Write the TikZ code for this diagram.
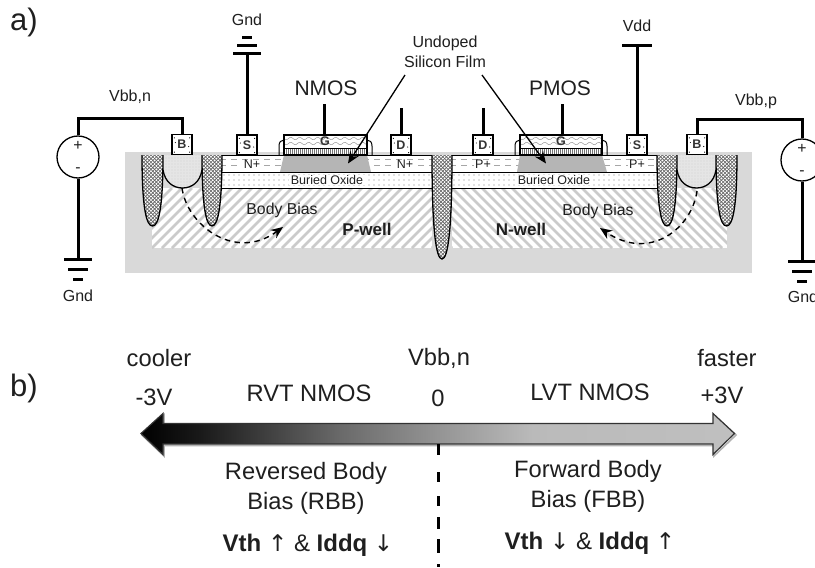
\documentclass[tikz,border=0pt]{standalone}
\usepackage{fontspec}
\setmainfont{Liberation Sans}
\newfontfamily\arrowfont{DejaVu Sans}
\usetikzlibrary{arrows.meta}
\pgfdeclarehorizontalshading{barshade}{100bp}{color(0bp)=(black); color(25bp)=(black); color(30bp)=(black!90); color(42bp)=(black!58); color(50bp)=(black!42); color(58bp)=(black!27); color(75bp)=(black!25); color(100bp)=(black!25)}
\definecolor{substrate}{HTML}{D9D9D9}
\definecolor{chan}{HTML}{B5B5B5}
\definecolor{hatchc}{HTML}{CBCBCB}
\newcommand{\fsz}[1]{\fontsize{#1}{#1}\selectfont}
\newcommand{\upar}{{\arrowfont\mdseries\fontsize{23}{23}\selectfont ↑}}
\newcommand{\dnar}{{\arrowfont\mdseries\fontsize{23}{23}\selectfont ↓}}
\tikzset{
  wire/.style={line width=3pt,draw=black},
  layer/.style={draw=black,line width=1pt},
  term/.style={draw=black,line width=1.3pt,fill=white,minimum size=20pt,inner sep=0pt,font=\bfseries\fsz{12.5},text=black!80},
  gatelbl/.style={inner sep=0pt,font=\bfseries\fsz{12.5},text=black!80},
  vsrc/.style={circle,draw=black,line width=1.3pt,fill=white,minimum size=42pt,inner sep=0pt},
  lbl/.style={inner sep=0pt,text=black!88,align=center},
  tox/.style={lbl,font=\fsz{12.5},fill=white,inner xsep=1.5pt},
  tdop/.style={lbl,font=\fsz{12.5},fill=white,inner xsep=1.5pt},
  tbody/.style={lbl,font=\fsz{15.8}},
  twell/.style={lbl,font=\bfseries\fsz{17}},
  tsmall/.style={lbl,font=\fontsize{16}{20}\selectfont},
  tmos/.style={lbl,font=\fsz{21}},
  tscale/.style={lbl,font=\fontsize{23.7}{30}\selectfont},
  tcond/.style={lbl,font=\bfseries\fsz{24}},
  tbig/.style={lbl,font=\fsz{31}},
  film arrow/.style={draw=black,line width=1.3pt,-{Stealth[length=12pt,width=10pt]}},
  bias/.style={draw=black,line width=1.4pt,dash pattern=on 5.5pt off 4.5pt,-{Stealth[length=12pt,width=10pt]}},
}
% STI trench
\newcommand{\stitrench}[4]{% x1 x2 ytop ybot
  \pgfmathsetmacro{\xm}{(#1+#2)/2}
  \pgfmathsetmacro{\yc}{#3+0.72*(#4-#3)}
  \begin{scope}
    \clip (#1,#3) .. controls (#1,\yc) and (#1+4,#4) .. (\xm,#4) .. controls (#2-4,#4) and (#2,\yc) .. (#2,#3) -- cycle;
    \fill[black!60] (#1,#3) rectangle (#2,#4);
    \foreach \yy in {0,3.6,...,108}{
      \foreach \xx in {0,3.6,...,24}{
        \fill[white] (#1+\xx,#3+\yy) circle (1.1pt);
        \fill[white] (#1+\xx+1.8,#3+\yy+1.8) circle (1.1pt);
      }
    }
  \end{scope}
  \draw[line width=1.3pt] (#1,#3) .. controls (#1,\yc) and (#1+4,#4) .. (\xm,#4) .. controls (#2-4,#4) and (#2,\yc) .. (#2,#3);
}
% N+/P+ layer dashes
\newcommand{\dashlayer}[4]{%
  \begin{scope}
    \clip (#1,#2) rectangle (#3,#4);
    \foreach \yy in {3,9}{
      \draw[black!35,line width=.5pt,dash pattern=on 6pt off 5pt] (#1-2,#2+1+\yy) -- (#3,#2+1+\yy);
    }
  \end{scope}
}
% Buried-oxide dots
\newcommand{\oxidedots}[4]{%
  \begin{scope}
    \clip (#1,#2) rectangle (#3,#4);
    \foreach \yy in {3,8,13}{
      \foreach \xx in {0,5,...,210}{
        \fill[black!50] (#1+\xx+2,#2+\yy) circle (.6pt);
      }
    }
  \end{scope}
}
% Gate stack
\newcommand{\gatestack}[3]{% x1 x2 xmid
  \draw[line width=1pt] (#1-5,155) -- (#1-5,146) .. controls (#1-5,142) and (#1-3,140) .. (#1,140);
  \draw[line width=1pt] (#2+5,155) -- (#2+5,146) .. controls (#2+5,142) and (#2+3,140) .. (#2,140);
  \fill[white] (#1,135) rectangle (#2,155);
  \foreach \yy in {138.5,143.5}{
    \draw[black!40,line width=.5pt,domain=0:#2-#1,samples=70,smooth] plot ({#1+\x},{\yy+1.2*sin(\x*40)});
  }
  \foreach \xx in {0,2,...,84}{
    \pgfmathsetmacro{\xg}{#1+\xx}
    \ifdim\xg pt<#2pt
      \draw[black!55,line width=.6pt] (\xg,149) -- (\xg,155);
    \fi
  }
  \draw[line width=1.3pt] (#1,135) rectangle (#2,155);
  \draw[line width=1pt] (#1,148) -- (#2,148);
}
\newcommand{\diffusion}[2]{% x1 x2
  \begin{scope}
    \clip (#1,155) -- (#1,170) .. controls (#1+2,182) and (#1+10,188) .. (#1/2+#2/2,188) .. controls (#2-10,188) and (#2-2,182) .. (#2,170) -- (#2,155) -- cycle;
    \fill[black!10] (#1,155) rectangle (#2,190);
    \foreach \yy in {0,3,...,33}{
      \foreach \xx in {0,3,...,39}{
        \fill[black!30] (#1+\xx,155+\yy) circle (.45pt);
      }
    }
  \end{scope}
  \draw[line width=1.3pt] (#1,170) .. controls (#1+2,182) and (#1+10,188) .. (#1/2+#2/2,188) .. controls (#2-10,188) and (#2-2,182) .. (#2,170);
}
\newcommand{\termdots}[1]{%
  \fill (#1.north west) ++(3,4) circle (.6pt);
  \fill (#1.north east) ++(-3,4) circle (.6pt);
  \fill (#1.south west) ++(3,-3) circle (.6pt);
  \fill (#1.south east) ++(-3,-3) circle (.6pt);
  \fill (#1.west) ++(4,-2) circle (.6pt);
  \fill (#1.east) ++(-4,2) circle (.6pt);
}
\begin{document}
\begin{tikzpicture}[x=1pt,y=-1pt]
\useasboundingbox (0,0) rectangle (815,568);
\fill[white] (0,0) rectangle (815,568);
% substrate
\fill[substrate] (125,152) rectangle (752,273);
% wells
\begin{scope}
  \clip (152,188) rectangle (432,248);
  \fill[white] (152,188) rectangle (432,248);
  \foreach \k in {0,10,...,360}{
    \draw[hatchc,line width=2.6pt] (152+\k-60,248) -- (152+\k,188);
  }
\end{scope}
\begin{scope}
  \clip (452,188) rectangle (727,248);
  \fill[white] (452,188) rectangle (727,248);
  \foreach \k in {0,10,...,360}{
    \draw[hatchc,line width=2.6pt] (452+\k-60,188) -- (452+\k,248);
  }
\end{scope}
% top layers
\fill[white] (222,155) rectangle (432,188);
\fill[white] (452,155) rectangle (657,188);
\dashlayer{222}{155}{432}{172}
\dashlayer{452}{155}{657}{172}
\oxidedots{222}{172}{432}{188}
\oxidedots{452}{172}{657}{188}
\fill[chan] (280,172) -- (284,155) -- (367,155) -- (371,172) -- cycle;
\fill[chan] (517,172) -- (520,155) -- (602,155) -- (607,172) -- cycle;
\draw[layer] (222,172) -- (432,172) (222,188) -- (432,188);
\draw[layer] (452,172) -- (657,172) (452,188) -- (657,188);
\draw[layer] (142,155) -- (432,155);
\draw[layer] (452,155) -- (737,155);
\diffusion{163}{202}
\diffusion{677}{716}
\stitrench{142}{163}{155}{226}
\stitrench{202}{222}{155}{226}
\stitrench{432}{452}{155}{259}
\stitrench{657}{677}{155}{226}
\stitrench{716}{737}{155}{226}
\gatestack{284}{367}{325}
\gatestack{520}{602}{561}
% terminals
\node[term] (tBn) at (182,144.5) {B};
\node[term] (tSn) at (247,145) {S};
\node[term] (tDn) at (401,145) {D};
\node[term] (tDp) at (483,145) {D};
\node[term] (tSp) at (637,145) {S};
\node[term] (tBp) at (697,144.5) {B};
\termdots{tBn}\termdots{tSn}\termdots{tDn}\termdots{tDp}\termdots{tSp}\termdots{tBp}
\node[gatelbl] (tGn) at (325,141) {G};
\node[gatelbl] (tGp) at (561,141) {G};
% layer labels
\node[tdop] (nl) at (252,164) {N+};
\node[tdop] (nr) at (405,164) {N+};
\node[tdop] (pl) at (483,164) {P+};
\node[tdop] (pr) at (637,164) {P+};
\node[tox] (ox1) at (327,180) {Buried Oxide};
\node[tox] (ox2) at (554,180) {Buried Oxide};
\node[tbody] (bb1) at (282,210) {Body Bias};
\node[tbody] (bb2) at (598,211) {Body Bias};
\node[twell] (pw) at (367,229) {P-well};
\node[twell] (nw) at (521,229) {N-well};
% body bias arrows
\coordinate (bbaS) at (182,188);
\coordinate (bbaE) at (283,227);
\coordinate (bbbS) at (697,191);
\coordinate (bbbE) at (600,228);
\draw[bias] (bbaS) .. controls (187,225) and (235,262) .. (bbaE);
\draw[bias] (bbbS) .. controls (692,228) and (650,262) .. (bbbE);
% sources
\node[vsrc] (vn) at (78,157) {};
\node[vsrc] (vp) at (802,160) {};
\node[tbody] (vnp) at (78,146) {+};
\node[tbody] (vnm) at (78,170) {-};
\node[tbody] (vpp) at (802,149) {+};
\node[tbody] (vpm) at (802,173) {-};
\node[tsmall] (lvn) at (130,97) {Vbb,n};
\node[tsmall] (lvp) at (756,101) {Vbb,p};
% wires
\coordinate (cnA) at (78,118);
\coordinate (cnB) at (182,118);
\coordinate (cpA) at (802,119.5);
\coordinate (cpB) at (697,119.5);
\draw[wire,line join=miter] (vn.north) -- (cnA) -- (cnB) -- (tBn.north);
\draw[wire,line join=miter] (vp.north) -- (cpA) -- (cpB) -- (tBp.north);
\coordinate (gL) at (78,259);
\coordinate (gR) at (802,261);
\coordinate (gS) at (247,53);
\coordinate (vddc) at (637,45);
\draw[wire] (vn.south) -- (gL);
\draw[wire] (vp.south) -- (gR);
\draw[wire] (tSn.north) -- (gS);
\draw[wire] (tSp.north) -- (vddc);
\draw[wire] ([xshift=-14pt]gL) -- ([xshift=14pt]gL);
\draw[wire] ([xshift=-10pt,yshift=-10pt]gL) -- ([xshift=10pt,yshift=-10pt]gL);
\draw[wire] ([xshift=-5pt,yshift=-20pt]gL) -- ([xshift=5pt,yshift=-20pt]gL);
\draw[wire] ([xshift=-14pt]gR) -- ([xshift=14pt]gR);
\draw[wire] ([xshift=-10pt,yshift=-10pt]gR) -- ([xshift=10pt,yshift=-10pt]gR);
\draw[wire] ([xshift=-5pt,yshift=-20pt]gR) -- ([xshift=5pt,yshift=-20pt]gR);
\draw[wire] ([xshift=-14pt]gS) -- ([xshift=14pt]gS);
\draw[wire] ([xshift=-10pt,yshift=8pt]gS) -- ([xshift=10pt,yshift=8pt]gS);
\draw[wire] ([xshift=-5pt,yshift=16pt]gS) -- ([xshift=5pt,yshift=16pt]gS);
\draw[wire] ([xshift=-15pt]vddc) -- ([xshift=15pt]vddc);
\node[tsmall] (gndL) at (78,296) {Gnd};
\node[tsmall] (gndR) at (803,297) {Gnd};
\node[tsmall] (gndS) at (247,20) {Gnd};
\node[tsmall] (vddl) at (637,26) {Vdd};
% stubs
\coordinate (sGn) at (324,104);
\coordinate (sDn) at (401,108);
\coordinate (sDp) at (483,108);
\coordinate (sGp) at (562,104);
\coordinate (bGn) at (324,135);
\coordinate (bGp) at (562,135);
\draw[wire] (bGn) -- (sGn);
\draw[wire] (tDn.north) -- (sDn);
\draw[wire] (tDp.north) -- (sDp);
\draw[wire] (bGp) -- (sGp);
% heading labels
\node[tmos] (nmos) at (326,88) {NMOS};
\node[tmos] (pmos) at (560,88) {PMOS};
\node[tsmall] (film) at (445,52) {Undoped\\Silicon Film};
\coordinate (chA) at (348,163.5);
\coordinate (chB) at (546,163.5);
\coordinate (fA) at (405,75);
\coordinate (fB) at (482,75);
\draw[film arrow] (fA) -- (chA);
\draw[film arrow] (fB) -- (chB);
\node[tbig] (la) at (24,22) {a)};
\node[tbig] (lb) at (24,388) {b)};
% lower scale
\node[tscale] (cooler) at (159,358) {cooler};
\node[tscale] (m3) at (154,397) {-3V};
\node[tscale] (rvt) at (309,393) {RVT NMOS};
\node[tscale] (vbbn) at (439,358) {Vbb,n};
\node[tscale] (zero) at (438,398) {0};
\node[tscale] (lvt) at (590,392) {LVT NMOS};
\node[tscale] (faster) at (727,358) {faster};
\node[tscale] (p3) at (722,395) {+3V};
\draw[black!30,line width=1.6pt,line join=miter] (142,435) -- (164,415) -- (164,425) -- (714,425) -- (714,415) -- (736,435) -- (714,456) -- (714,445.5) -- (164,445.5) -- (164,456) -- cycle;
\path[shading=barshade,draw=black!80,line width=1.2pt] (141,433.5) -- (163,413.5) -- (163,423.5) -- (713,423.5) -- (713,413.5) -- (734.5,433.5) -- (713,454.5) -- (713,444) -- (163,444) -- (163,454.5) -- cycle;
\coordinate (dashT) at (438.5,444);
\coordinate (dashB) at (438.5,568);
\draw[line width=3.2pt,dash pattern=on 11pt off 17pt on 10pt off 14pt on 10pt off 11pt on 12pt off 10pt on 14pt off 11pt on 3pt off 10pt] (dashT) -- (dashB);
\node[tscale] (rbb) at (306,488) {Reversed Body\\Bias (RBB)};
\node[tscale] (fbb) at (588,486) {Forward Body\\Bias (FBB)};
\node[tcond] (vl) at (308,545) {Vth \upar{} {\mdseries\&} Iddq \dnar};
\node[tcond] (vr) at (590,543) {Vth \dnar{} {\mdseries\&} Iddq \upar};
\end{tikzpicture}
\end{document}
